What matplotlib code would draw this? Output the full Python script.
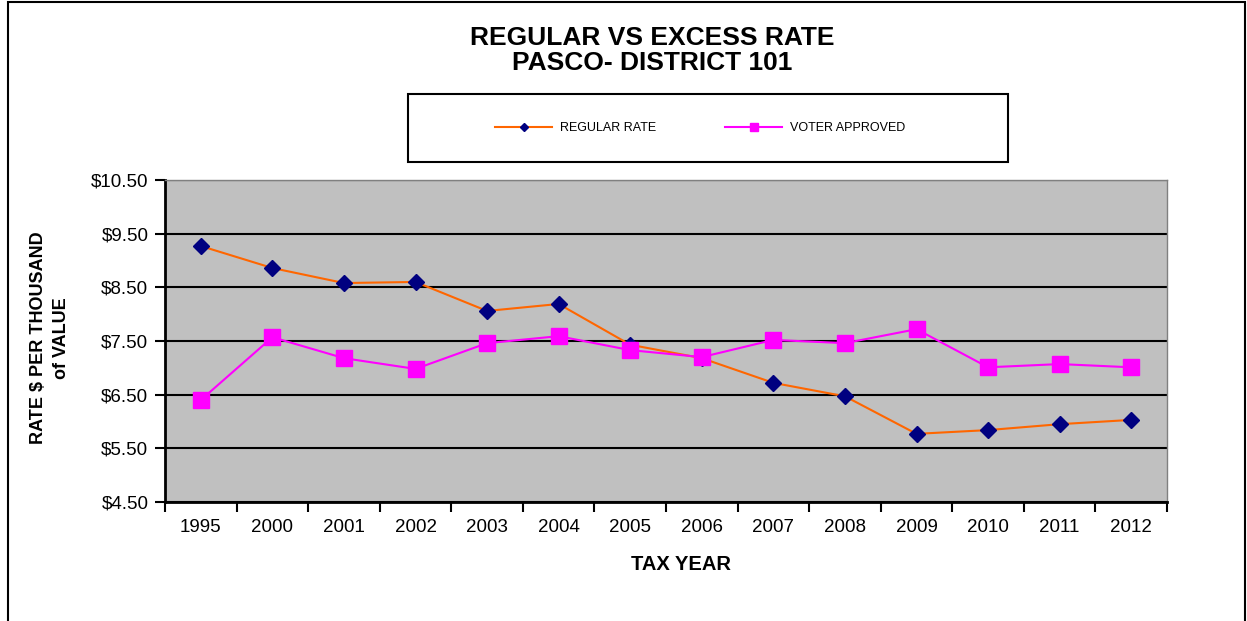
import matplotlib.pyplot as plt
from matplotlib.lines import Line2D
from matplotlib.patches import Rectangle

plt.rcParams['font.family'] = ['Liberation Sans', 'DejaVu Sans']

years = ['1995', '2000', '2001', '2002', '2003', '2004', '2005',
         '2006', '2007', '2008', '2009', '2010', '2011', '2012']
regular = [9.27, 8.86, 8.58, 8.60, 8.06, 8.19, 7.43,
           7.18, 6.72, 6.47, 5.77, 5.84, 5.95, 6.03]
voter = [6.40, 7.57, 7.18, 6.98, 7.46, 7.59, 7.33,
         7.20, 7.52, 7.46, 7.72, 7.01, 7.07, 7.01]
yticks = [4.5, 5.5, 6.5, 7.5, 8.5, 9.5, 10.5]

W, H = 1247, 621
fig = plt.figure(figsize=(W / 100, H / 100), dpi=100)
ax = fig.add_axes([165 / W, 1 - 502 / H, 1002 / W, 322 / H])
ax.set_facecolor('#C0C0C0')

x = list(range(len(years)))
ax.plot(x, regular, color='#FF6600', lw=1.5, marker='D', ms=8,
        mfc='#000080', mec='#000080', zorder=3)
ax.plot(x, voter, color='#FF00FF', lw=1.5, marker='s', ms=11,
        mfc='#FF00FF', mec='#FF00FF', zorder=3)

ax.set_xlim(-0.5, len(years) - 0.5)
ax.set_ylim(4.5, 10.5)
ax.set_yticks(yticks)
ax.set_yticklabels(['$%.2f' % v for v in yticks], fontsize=13.5)
ax.set_xticks(x)
ax.set_xticklabels(years, fontsize=13.5)
ax.set_xticks([i - 0.5 for i in range(len(years) + 1)], minor=True)
ax.tick_params(axis='x', which='major', length=0, pad=12)
ax.tick_params(axis='x', which='minor', length=7, width=1.5, color='black')
ax.tick_params(axis='y', length=7, width=1.5, color='black', pad=5)
ax.grid(axis='y', color='black', lw=1.5)
ax.set_axisbelow(True)
for s in ['left', 'bottom']:
    ax.spines[s].set_linewidth(2)
    ax.spines[s].set_color('black')
for s in ['top', 'right']:
    ax.spines[s].set_color('#808080')
    ax.spines[s].set_linewidth(1)

fig.text(652 / W, 1 - 38 / H, 'REGULAR VS EXCESS RATE', ha='center',
         va='center', fontsize=19, fontweight='bold')
fig.text(652 / W, 1 - 63 / H, 'PASCO- DISTRICT 101', ha='center',
         va='center', fontsize=19, fontweight='bold')
fig.text(681 / W, 1 - 565 / H, 'TAX YEAR', ha='center', va='center',
         fontsize=14.5, fontweight='bold')
fig.text(50 / W, 1 - 338 / H, 'RATE $ PER THOUSAND\nof VALUE', ha='center',
         va='center', rotation=90, fontsize=13, fontweight='bold',
         linespacing=1.45, fontstretch='condensed')

# outer chart border
fig.patches.append(Rectangle((8 / W, -0.1), (1245 - 8) / W, 1.1 - 2 / H,
                             transform=fig.transFigure, fill=False,
                             ec='black', lw=1.5))
# legend box
fig.patches.append(Rectangle((408 / W, 1 - 162 / H), 600 / W, 68 / H,
                             transform=fig.transFigure, fill=False,
                             ec='black', lw=1.5))
handles = [
    Line2D([], [], color='#FF6600', lw=1.5, marker='D', ms=4,
           mfc='#000080', mec='#000080'),
    Line2D([], [], color='#FF00FF', lw=1.5, marker='s', ms=6,
           mfc='#FF00FF', mec='#FF00FF'),
]
fig.legend(handles, ['REGULAR RATE', 'VOTER APPROVED'], loc='center',
           bbox_to_anchor=(700 / W, 1 - 128 / H), ncol=2, frameon=False,
           fontsize=9, handlelength=4.6, columnspacing=5.5, handletextpad=0.6)

fig.savefig('out.png', dpi=100)
